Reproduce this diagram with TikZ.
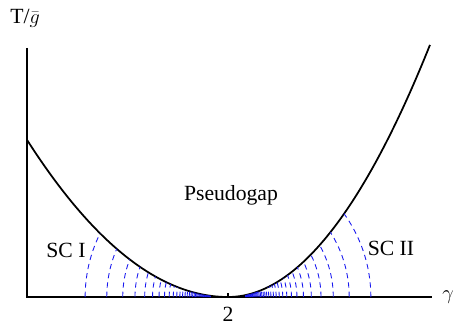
\documentclass[tikz,border=0pt]{standalone}
\usepackage{fontspec}
\setmainfont{Liberation Serif}
\usetikzlibrary{positioning}
\definecolor{scblue}{RGB}{25,25,240}

\begin{document}
\begin{tikzpicture}[x=3cm,y=3cm,
  axisline/.style={line width=1.3pt},
  gapline/.style={line width=1.5pt},
  scarc/.style={scblue, line width=0.75pt, dash pattern=on 4.5pt off 3.5pt},
  lbl/.style={font=\fontsize{18.5}{21}\selectfont}]
\useasboundingbox (-2.28,-0.30) rectangle (2.28,2.97);

% axes
\coordinate (origin) at (-2.01,0);
\coordinate (ytop) at (-2.01,2.49);
\coordinate (xend) at (2.04,0);
\coordinate (qc) at (0,0);
\draw[axisline] (ytop) -- (origin) -- (xend);
\draw[axisline] (qc) -- ++(0,0.04);

% pseudogap boundary
\draw[gapline] plot[smooth, domain=-2.01:0, samples=100] (\x,{0.389*\x*\x})
  -- plot[smooth, domain=0:2.02, samples=100] (\x,{0.618*\x*\x});

% SC domes: dashed arcs up to the boundary
\foreach \n in {0,...,40}{
  \pgfmathsetmacro\R{1/(0.70+0.125*\n)}
  \pgfmathsetmacro\xl{sqrt((sqrt(1+4*0.389*0.389*\R*\R)-1)/(2*0.389*0.389))}
  \pgfmathsetmacro\tl{atan(0.389*\xl)}
  \pgfmathsetmacro\xr{sqrt((sqrt(1+4*0.618*0.618*\R*\R)-1)/(2*0.618*0.618))}
  \pgfmathsetmacro\tr{atan(0.618*\xr)}
  \draw[scarc] (180:\R) arc[start angle=180, end angle=180-\tl, radius=\R];
  \draw[scarc] (0:\R) arc[start angle=0, end angle=\tr, radius=\R];
}

% labels
\node[lbl, inner sep=1pt] (ylabel) at (-2.03,2.79) {T/$\bar{g}$};
\node[lbl] (xlabel) at (2.20,0.0) {$\gamma$};
\node[lbl] (critical) at (0,-0.17) {2};
\node[lbl] (scone) at (-1.62,0.47) {SC I};
\node[lbl] (sctwo) at (1.63,0.49) {SC II};
\node[lbl] (pg) at (0.03,1.02) {Pseudogap};
\end{tikzpicture}
\end{document}
